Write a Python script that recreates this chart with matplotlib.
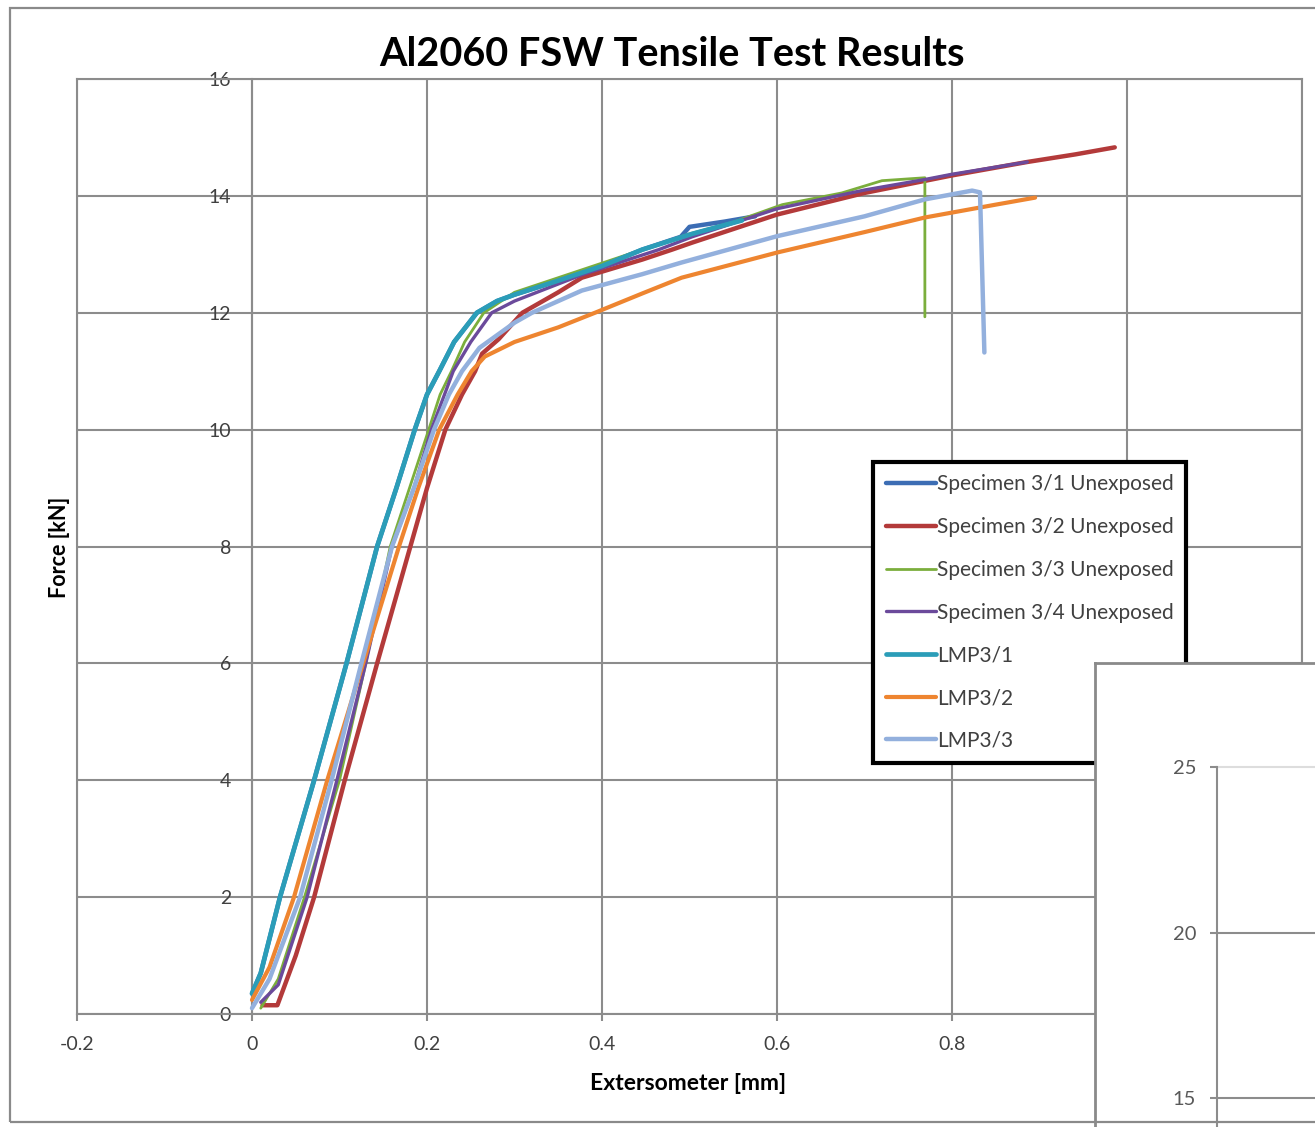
import matplotlib
matplotlib.use("Agg")
import matplotlib.pyplot as plt
from matplotlib.patches import Rectangle

# ---------------- data ----------------
series_names = ["Specimen 3/1 Unexposed", "Specimen 3/2 Unexposed",
                "Specimen 3/3 Unexposed", "Specimen 3/4 Unexposed",
                "LMP3/1", "LMP3/2", "LMP3/3"]

spec31_x = [0.0, 0.01, 0.032, 0.071, 0.108, 0.143, 0.165, 0.186, 0.200, 0.214, 0.231, 0.257,
            0.28, 0.30, 0.35, 0.40, 0.446, 0.49, 0.50, 0.54, 0.575]
spec31_y = [0.35, 0.7, 2.0, 4.0, 6.0, 8.0, 9.0, 10.0, 10.6, 11.0, 11.5, 12.0,
            12.2, 12.31, 12.55, 12.8, 13.08, 13.3, 13.47, 13.56, 13.65]

spec32_x = [0.012, 0.029, 0.05, 0.071, 0.106, 0.143, 0.181, 0.20, 0.221, 0.24, 0.255, 0.263,
            0.282, 0.309, 0.35, 0.377, 0.446, 0.48, 0.503, 0.6, 0.7, 0.8, 0.886, 0.941, 0.986]
spec32_y = [0.15, 0.15, 1.0, 2.0, 4.0, 6.0, 8.0, 9.0, 10.0, 10.6, 11.0, 11.3,
            11.55, 12.0, 12.35, 12.6, 12.91, 13.08, 13.2, 13.68, 14.05, 14.35, 14.58, 14.71, 14.83]

spec33_x = [0.01, 0.03, 0.06, 0.10, 0.13, 0.158, 0.18, 0.202, 0.215, 0.228, 0.243, 0.265,
            0.30, 0.35, 0.40, 0.45, 0.50, 0.55, 0.606, 0.674, 0.72, 0.769, 0.769]
spec33_y = [0.1, 0.6, 2.0, 4.0, 6.0, 8.0, 9.0, 10.0, 10.6, 11.0, 11.5, 12.0,
            12.35, 12.6, 12.85, 13.1, 13.35, 13.55, 13.85, 14.05, 14.26, 14.31, 11.93]

spec34_x = [0.01, 0.03, 0.063, 0.097, 0.13, 0.16, 0.185, 0.205, 0.23, 0.25, 0.274, 0.30,
            0.377, 0.465, 0.503, 0.6, 0.7, 0.769, 0.8, 0.886]
spec34_y = [0.2, 0.5, 2.0, 4.0, 6.0, 8.0, 9.0, 10.0, 11.0, 11.5, 12.0, 12.2,
            12.65, 13.08, 13.3, 13.78, 14.1, 14.28, 14.37, 14.58]

lmp31_x = [0.0, 0.01, 0.032, 0.071, 0.108, 0.143, 0.165, 0.186, 0.200, 0.214, 0.231, 0.257,
           0.28, 0.30, 0.35, 0.40, 0.446, 0.503, 0.56]
lmp31_y = [0.35, 0.7, 2.0, 4.0, 6.0, 8.0, 9.0, 10.0, 10.6, 11.0, 11.5, 12.0,
           12.2, 12.31, 12.55, 12.8, 13.08, 13.35, 13.58]

lmp32_x = [0.0, 0.02, 0.048, 0.086, 0.127, 0.168, 0.19, 0.214, 0.235, 0.251, 0.266, 0.30,
           0.35, 0.392, 0.446, 0.491, 0.6, 0.7, 0.769, 0.85, 0.895]
lmp32_y = [0.24, 0.8, 2.0, 4.0, 6.0, 8.0, 9.0, 10.0, 10.6, 11.0, 11.25, 11.5,
           11.75, 12.0, 12.33, 12.6, 13.03, 13.38, 13.63, 13.85, 13.97]

lmp33_x = [0.0, 0.02, 0.055, 0.091, 0.125, 0.16, 0.185, 0.208, 0.225, 0.24, 0.26, 0.30,
           0.32, 0.377, 0.446, 0.491, 0.6, 0.7, 0.769, 0.823, 0.832, 0.837]
lmp33_y = [0.1, 0.6, 2.0, 4.0, 6.0, 8.0, 9.0, 10.0, 10.6, 11.0, 11.4, 11.83,
           12.0, 12.38, 12.66, 12.86, 13.31, 13.65, 13.94, 14.09, 14.06, 11.32]

x_ticks = [-0.2, 0, 0.2, 0.4, 0.6, 0.8, 1.0, 1.2]
x_tick_labels = ["-0.2", "0", "0.2", "0.4", "0.6", "0.8", "1", "1.2"]
y_ticks = [0, 2, 4, 6, 8, 10, 12, 14, 16]
y_tick_labels = ["0", "2", "4", "6", "8", "10", "12", "14", "16"]
inset_ticks = [15, 20, 25]
inset_tick_labels = ["15", "20", "25"]

# ---------------- styling ----------------
colors = ["#3C6DB4", "#B33A3A", "#7BAE3C", "#6B4A9B", "#2B9DB8", "#EE8530", "#93B0DD"]
widths = [3.2, 3.2, 2.0, 2.4, 3.4, 3.0, 3.2]
grid_c = "#8C8C8C"
text_c = "#404040"
FONT = "Lato"

W, H = 1315, 1127
fig = plt.figure(figsize=(W / 100, H / 100), dpi=100)
fig.patch.set_facecolor("white")

def fx(px):
    return px / W

def fy(py):
    return 1 - py / H

# outer chart frame
fig.patches.append(Rectangle((fx(10), fy(1122)), fx(1400) - fx(10), fy(8) - fy(1122),
                             transform=fig.transFigure, fill=False,
                             edgecolor="#8A8A8A", linewidth=1.6))

ax = fig.add_axes([fx(77), fy(1014), fx(1302) - fx(77), fy(79) - fy(1014)])
ax.set_xlim(-0.2, 1.2)
ax.set_ylim(0, 16)

all_x = [spec31_x, spec32_x, spec33_x, spec34_x, lmp31_x, lmp32_x, lmp33_x]
all_y = [spec31_y, spec32_y, spec33_y, spec34_y, lmp31_y, lmp32_y, lmp33_y]
for xs, ys, name, c, lw in zip(all_x, all_y, series_names, colors, widths):
    ax.plot(xs, ys, color=c, lw=lw, label=name, solid_capstyle="round",
            solid_joinstyle="round", zorder=3)

ax.set_xticks(x_ticks)
ax.set_xticklabels(x_tick_labels)
ax.set_yticks(y_ticks)
ax.set_yticklabels(y_tick_labels)
ax.grid(True, color=grid_c, lw=1.5, zorder=0)
ax.set_axisbelow(True)
for t, gl in zip(y_ticks, ax.yaxis.get_gridlines()):
    if t == 10:
        gl.set_color("#E6E6E6")

for s in ["top", "right", "bottom"]:
    ax.spines[s].set_color(grid_c)
    ax.spines[s].set_linewidth(1.5)
ax.spines["left"].set_position(("data", 0))
ax.spines["left"].set_color(grid_c)
ax.spines["left"].set_linewidth(1.5)
ax.axvline(-0.2, color=grid_c, lw=1.5, clip_on=False, zorder=0)

ax.tick_params(axis="x", direction="out", length=5, width=1.5, color=grid_c,
               pad=11, labelsize=14, labelcolor=text_c)
ax.tick_params(axis="y", length=0, pad=15, labelsize=14, labelcolor=text_c)
for lab in ax.get_xticklabels() + ax.get_yticklabels():
    lab.set_family(FONT)

leg = ax.legend(loc="upper left",
                bbox_to_anchor=(fx(873), fy(462)), bbox_transform=fig.transFigure,
                frameon=True, fancybox=False, framealpha=1, edgecolor="black",
                prop={"family": FONT, "size": 15}, labelcolor=text_c,
                handlelength=2.4, handletextpad=0.08, labelspacing=1.09,
                borderpad=0.6, borderaxespad=0)
leg.get_frame().set_linewidth(3)
leg.set_zorder(10)

fig.text(fx(672), fy(55), "Al2060 FSW Tensile Test Results", ha="center", va="center",
         fontsize=28.5, fontweight="bold", family=FONT, color="black")
fig.text(fx(60), fy(547), "Force [kN]", ha="center", va="center", rotation=90,
         fontsize=15.5, fontweight="bold", family=FONT, color="black")
fig.text(fx(688), fy(1083), "Extersometer [mm]", ha="center", va="center",
         fontsize=16.5, fontweight="bold", family=FONT, color="black")

# ---------------- overlapping second chart (partially visible) ----------------
ov = fig.add_axes([fx(1095), fy(1200), fx(1400) - fx(1095), fy(663) - fy(1200)])
ov.set_facecolor("white")
ov.set_xticks([])
ov.set_yticks([])
for s in ["left", "top"]:
    ov.spines[s].set_color("#8A8A8A")
    ov.spines[s].set_linewidth(2)
for s in ["right", "bottom"]:
    ov.spines[s].set_visible(False)

px_per_unit = (1098 - 767) / (25 - 15)
ymin = 15 - (1127 - 1098) / px_per_unit
inner = fig.add_axes([fx(1217), 0, fx(1400) - fx(1217), fy(767)])
inner.set_facecolor("none")
inner.set_ylim(ymin, 25)
inner.set_xlim(0, 1)
inner.set_xticks([])
inner.set_yticks(inset_ticks)
inner.set_yticklabels(inset_tick_labels)
inner.grid(True, axis="y", color=grid_c, lw=1.5)
for t, gl in zip(inset_ticks, inner.yaxis.get_gridlines()):
    if t == 25:
        gl.set_color("#DDDDDD")
        gl.set_clip_on(False)
for s in ["top", "right", "bottom"]:
    inner.spines[s].set_visible(False)
inner.spines["left"].set_color(grid_c)
inner.spines["left"].set_linewidth(1.5)
inner.tick_params(axis="y", direction="out", length=5, width=1.5, color=grid_c,
                  pad=10, labelsize=14.5, labelcolor="#595959")
for lab in inner.get_yticklabels():
    lab.set_family(FONT)

fig.savefig("out.png", dpi=100, facecolor="white")
